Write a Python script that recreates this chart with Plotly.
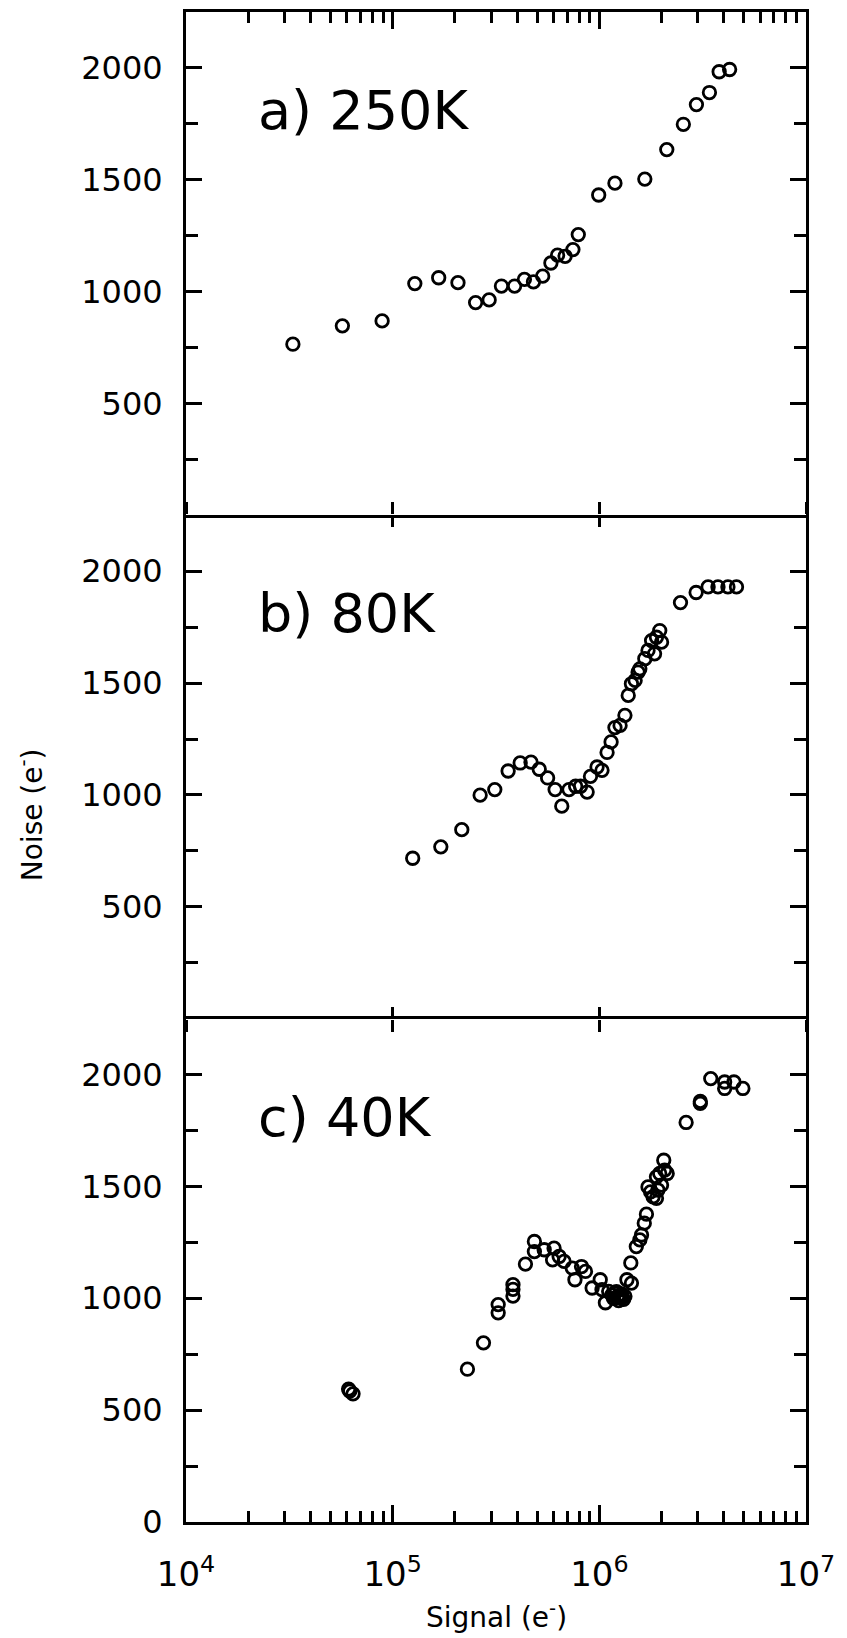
import plotly.graph_objects as go

# Noise versus signal at three temperatures (signal in electrons, noise in electrons)
signal_250k = [3.29e4, 5.71e4, 8.89e4, 1.28e5, 1.67e5, 2.07e5, 2.52e5, 2.93e5, 3.36e5,
               3.89e5, 4.34e5, 4.80e5, 5.32e5, 5.83e5, 6.28e5, 6.83e5, 7.45e5, 7.91e5,
               9.93e5, 1.19e6, 1.66e6, 2.12e6, 2.55e6, 2.95e6, 3.41e6, 3.80e6, 4.27e6]
noise_250k = [765, 847, 869, 1036, 1062, 1040, 951, 963, 1025,
              1025, 1055, 1044, 1069, 1128, 1163, 1158, 1188, 1255,
              1432, 1485, 1503, 1635, 1748, 1836, 1890, 1983, 1993]

signal_80k = [1.25e5, 1.71e5, 2.16e5, 2.65e5, 3.12e5, 3.62e5, 4.14e5, 4.67e5, 5.12e5,
              5.62e5, 6.11e5, 6.58e5, 7.13e5, 7.68e5, 8.11e5, 8.73e5, 9.06e5, 9.75e5,
              1.03e6, 1.09e6, 1.14e6, 1.19e6, 1.26e6, 1.33e6, 1.38e6, 1.43e6, 1.49e6,
              1.54e6, 1.57e6, 1.66e6, 1.72e6, 1.79e6, 1.85e6, 1.89e6, 1.96e6, 2.00e6,
              2.47e6, 2.94e6, 3.36e6, 3.75e6, 4.19e6, 4.61e6]
noise_80k = [717, 768, 845, 999, 1024, 1107, 1143, 1147, 1115,
             1076, 1024, 950, 1024, 1039, 1039, 1013, 1083, 1125,
             1110, 1190, 1237, 1301, 1311, 1356, 1445, 1497, 1512,
             1549, 1564, 1609, 1646, 1690, 1631, 1705, 1735, 1683,
             1860, 1905, 1930, 1930, 1930, 1930]

signal_40k = [6.12e4, 6.20e4, 6.43e4, 2.30e5, 2.75e5, 3.24e5, 3.24e5, 3.82e5, 3.82e5,
              3.82e5, 4.39e5, 4.85e5, 4.85e5, 5.41e5, 5.94e5, 6.04e5, 6.39e5, 6.75e5,
              7.40e5, 7.62e5, 8.20e5, 8.57e5, 9.23e5, 1.01e6, 1.03e6, 1.07e6, 1.11e6,
              1.15e6, 1.17e6, 1.19e6, 1.21e6, 1.23e6, 1.24e6, 1.26e6, 1.28e6, 1.29e6,
              1.31e6, 1.33e6, 1.36e6, 1.42e6, 1.43e6, 1.51e6, 1.57e6, 1.60e6, 1.65e6,
              1.69e6, 1.72e6, 1.77e6, 1.82e6, 1.89e6, 1.89e6, 1.92e6, 1.96e6, 2.00e6,
              2.05e6, 2.07e6, 2.13e6, 2.63e6, 3.08e6, 3.08e6, 3.46e6, 4.04e6, 4.04e6,
              4.48e6, 4.95e6]
noise_40k = [594, 585, 573, 683, 801, 972, 935, 1061, 1040,
             1010, 1153, 1254, 1209, 1217, 1172, 1224, 1187, 1165,
             1135, 1083, 1142, 1120, 1046, 1083, 1039, 980, 1031,
             1015, 1000, 1024, 1030, 1010, 990, 1002, 1020, 1005,
             995, 1009, 1083, 1158, 1068, 1231, 1261, 1283, 1336,
             1376, 1498, 1476, 1454, 1447, 1543, 1484, 1558, 1506,
             1617, 1573, 1558, 1786, 1871, 1880, 1982, 1967, 1938,
             1967, 1938]

panel_labels = ["a) 250K", "b) 80K", "c) 40K"]

decade_vals = [1e4, 1e5, 1e6, 1e7]
decade_text = ["10<sup>4</sup>", "10<sup>5</sup>", "10<sup>6</sup>", "10<sup>7</sup>"]
minor_vals = [m * d for d in [1e4, 1e5, 1e6] for m in range(2, 10)]

noise_ticks_upper = [500, 1000, 1500, 2000]
noise_ticks_lower = [0, 500, 1000, 1500, 2000]
noise_minor = [250, 750, 1250, 1750]

FONT = "DejaVu Sans"
BLACK = "black"

fig = go.Figure()

series = [(signal_250k, noise_250k, "x", "y"),
          (signal_80k, noise_80k, "x2", "y2"),
          (signal_40k, noise_40k, "x3", "y3")]
for sx, ny, xa, ya in series:
    fig.add_trace(go.Scatter(
        x=sx, y=ny, xaxis=xa, yaxis=ya, mode="markers",
        marker=dict(symbol="circle-open", size=12.5, color=BLACK,
                    line=dict(width=2.8, color=BLACK)),
        showlegend=False, hoverinfo="skip"))

# empty trace so the crossing-tick axis over the middle panel is laid out
fig.add_trace(go.Scatter(x=[], y=[], xaxis="x4", yaxis="y2", showlegend=False))

common_x = dict(type="log", range=[4, 7], showgrid=False, zeroline=False,
                linewidth=3, linecolor=BLACK, tickcolor=BLACK,
                tickwidth=3, tickmode="array", tickvals=decade_vals)

outer_minor = dict(ticks="inside", tickmode="array", tickvals=minor_vals,
                   ticklen=11, tickwidth=2.5, tickcolor=BLACK, showgrid=False)

common_y = dict(range=[0, 2250], showgrid=False, zeroline=False, showline=True,
                linewidth=3, linecolor=BLACK, mirror="ticks", ticks="inside",
                ticklen=16, tickwidth=3, tickcolor=BLACK, tickmode="array",
                minor=dict(ticks="inside", tickmode="array", tickvals=noise_minor,
                           ticklen=12, tickwidth=3, tickcolor=BLACK),
                tickfont=dict(family=FONT, size=32, color=BLACK),
                ticklabelstandoff=14)

fig.update_layout(
    width=847, height=1638,
    margin=dict(l=186, r=35, t=12, b=115.5),
    paper_bgcolor="white", plot_bgcolor="white",
    # top panel: frame plus major and minor ticks along the top edge
    xaxis=dict(common_x, anchor="y", side="top", showline=True, mirror=True,
               ticks="inside", ticklen=17, minor=outer_minor,
               showticklabels=False),
    # middle panel: decade ticks that cross both shared borders
    xaxis2=dict(common_x, anchor="y2", side="bottom", showline=False,
                mirror="ticks", ticks="inside", ticklen=12,
                showticklabels=False),
    xaxis4=dict(common_x, anchor="y2", overlaying="x2", side="top",
                showline=False, mirror="ticks", ticks="outside", ticklen=12,
                showticklabels=False),
    # bottom panel: frame, major and minor ticks, decade labels
    xaxis3=dict(common_x, anchor="y3", side="bottom", showline=True, mirror=True,
                ticks="inside", ticklen=17, minor=outer_minor,
                ticktext=decade_text,
                tickfont=dict(family=FONT, size=34, color=BLACK),
                ticklabelstandoff=20),
    yaxis=dict(common_y, domain=[2 / 3, 1], anchor="x", tickvals=noise_ticks_upper),
    yaxis2=dict(common_y, domain=[1 / 3, 2 / 3], anchor="x2", tickvals=noise_ticks_upper),
    yaxis3=dict(common_y, domain=[0, 1 / 3], anchor="x3", tickvals=noise_ticks_lower),
)

for label, xr, yr in zip(panel_labels, ["x domain", "x2 domain", "x3 domain"],
                         ["y domain", "y2 domain", "y3 domain"]):
    fig.add_annotation(text=label, xref=xr, yref=yr, x=0.113, y=0.804,
                       xanchor="left", yanchor="middle", showarrow=False,
                       font=dict(family=FONT, size=54, color=BLACK))

fig.add_annotation(text="Noise (e<sup>-</sup>)", xref="paper", yref="paper",
                   x=-0.2508, y=0.4684, xanchor="center", yanchor="middle",
                   textangle=-90, showarrow=False,
                   font=dict(family=FONT, size=28, color=BLACK))
fig.add_annotation(text="Signal (e<sup>-</sup>)", xref="paper", yref="paper",
                   x=0.5, y=-0.0619, xanchor="center", yanchor="middle",
                   showarrow=False, font=dict(family=FONT, size=28, color=BLACK))

fig.write_html("out.html")
